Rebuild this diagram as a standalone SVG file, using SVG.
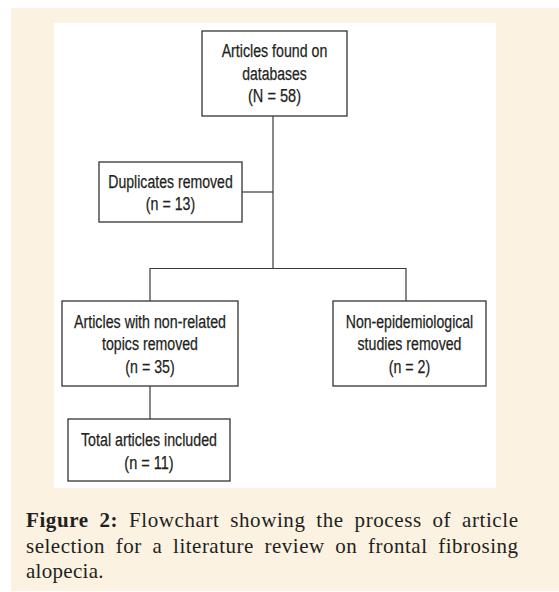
<svg xmlns="http://www.w3.org/2000/svg" width="559" height="592" viewBox="0 0 559 592">
<style>
.box{fill:#ffffff;stroke:#333333;stroke-width:1.3}
.lbl{font-family:"Liberation Sans Narrow","Liberation Sans",Arial,sans-serif;font-size:18px;fill:#231f20;stroke:#231f20;stroke-width:0.25;text-anchor:middle}
.conn{fill:none;stroke:#3a3a3a;stroke-width:1.2}
.cap{font-family:"Liberation Serif","Times New Roman",serif;font-size:21px;fill:#231f20}
</style>
<rect x="0" y="0" width="559" height="592" fill="#ffffff"/>
<rect x="11" y="8" width="548" height="583" fill="#fcf2e2"/>
<rect x="54" y="23" width="442" height="465" fill="#ffffff"/>
<g id="connectors">
<path class="conn" d="M273,116 V268.5"/>
<path class="conn" d="M242,192 H273"/>
<path class="conn" d="M150,301 V268.5 H406 V301"/>
<path class="conn" d="M150,386 V419"/>
</g>
<g id="node-found">
<rect class="box" x="202" y="31" width="145" height="85"/>
<text class="lbl" x="274.5" y="57" textLength="105.7" lengthAdjust="spacingAndGlyphs">Articles found on</text>
<text class="lbl" x="274.5" y="79.5" textLength="64.5" lengthAdjust="spacingAndGlyphs">databases</text>
<text class="lbl" x="274.5" y="102" textLength="53" lengthAdjust="spacingAndGlyphs">(N = 58)</text>
</g>
<g id="node-duplicates">
<rect class="box" x="99" y="162" width="143" height="60"/>
<text class="lbl" x="170.5" y="187.5" textLength="124.5" lengthAdjust="spacingAndGlyphs">Duplicates removed</text>
<text class="lbl" x="170.5" y="210" textLength="49.3" lengthAdjust="spacingAndGlyphs">(n = 13)</text>
</g>
<g id="node-nonrelated">
<rect class="box" x="62" y="301" width="176" height="85"/>
<text class="lbl" x="150" y="327.5" textLength="152" lengthAdjust="spacingAndGlyphs">Articles with non-related</text>
<text class="lbl" x="150" y="350" textLength="96" lengthAdjust="spacingAndGlyphs">topics removed</text>
<text class="lbl" x="150" y="372.5" textLength="49.3" lengthAdjust="spacingAndGlyphs">(n = 35)</text>
</g>
<g id="node-nonepi">
<rect class="box" x="333" y="301" width="153" height="85"/>
<text class="lbl" x="409.5" y="327.5" textLength="127.5" lengthAdjust="spacingAndGlyphs">Non-epidemiological</text>
<text class="lbl" x="409.5" y="350" textLength="104" lengthAdjust="spacingAndGlyphs">studies removed</text>
<text class="lbl" x="409.5" y="372.5" textLength="41.4" lengthAdjust="spacingAndGlyphs">(n = 2)</text>
</g>
<g id="node-included">
<rect class="box" x="68" y="419" width="162" height="62"/>
<text class="lbl" x="149" y="446" textLength="136" lengthAdjust="spacingAndGlyphs">Total articles included</text>
<text class="lbl" x="149" y="468.5" textLength="49.3" lengthAdjust="spacingAndGlyphs">(n = 11)</text>
</g>
<g id="caption">
<text class="cap" x="26" y="527" word-spacing="5" textLength="492" lengthAdjust="spacing"><tspan font-weight="bold">Figure 2:</tspan> Flowchart showing the process of article</text>
<text class="cap" x="26" y="552.5" word-spacing="5" textLength="492" lengthAdjust="spacing">selection for a literature review on frontal fibrosing</text>
<text class="cap" x="26" y="578" letter-spacing="0.3">alopecia.</text>
</g>
</svg>
